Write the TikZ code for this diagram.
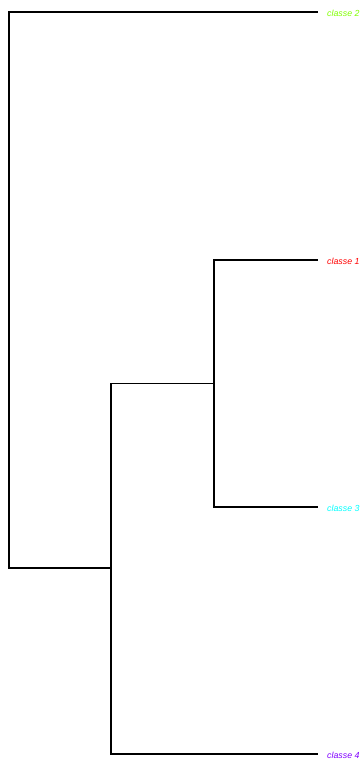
\documentclass[tikz,border=0pt]{standalone}
\usepackage{tikz}
\usepackage{fontspec}
\setsansfont{Liberation Sans}
\usetikzlibrary{calc}

\definecolor{cdeux}{HTML}{80FF00}
\definecolor{cun}{HTML}{FF0000}
\definecolor{ctrois}{HTML}{00FFFF}
\definecolor{cquatre}{HTML}{8000FF}

\tikzset{
	branch/.style={draw=black, line width=1.2pt, line cap=rect},
	leaflabel/.style={anchor=west, inner sep=0pt, font=\sffamily\itshape\fontsize{7.5}{8}\selectfont}
}

\begin{document}
\begin{tikzpicture}[x=0.03cm, y=-0.03cm]
	
	\useasboundingbox (0,0) rectangle (363,760);
	
	% leaves
	\coordinate (l2) at (317,12);
	\coordinate (l1) at (317,260);
	\coordinate (l3) at (317,507);
	\coordinate (l4) at (317,754);
	
	% merges
	\coordinate (m13) at (214,383.5);
	\coordinate (m134) at (111,568);
	\coordinate (root) at (9,290);
	
	\draw[branch] (m13) |- (l1);
	\draw[branch] (m13) |- (l3);
	\draw[branch] (m134) |- (m13);
	\draw[branch] (m134) |- (l4);
	\draw[branch] (root) |- (l2);
	\draw[branch] (root) |- (m134);
	
	\node[leaflabel, text=cdeux] (t2) at (327,13.5) {classe 2};
	\node[leaflabel, text=cun] (t1) at (327,261.5) {classe 1};
	\node[leaflabel, text=ctrois] (t3) at (327,508.5) {classe 3};
	\node[leaflabel, text=cquatre] (t4) at (327,755.5) {classe 4};
	
\end{tikzpicture}
\end{document}
